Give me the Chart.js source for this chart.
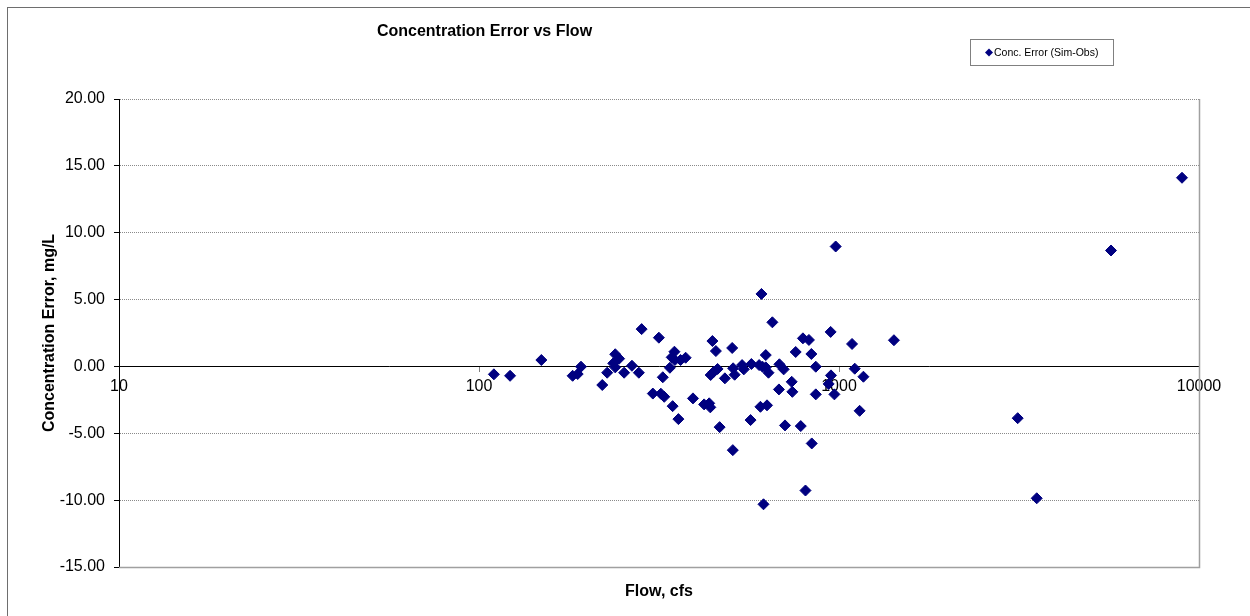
<!DOCTYPE html>
<html>
<head>
<meta charset="utf-8">
<script src="https://cdn.jsdelivr.net/npm/chart.js@4.4.1/dist/chart.umd.min.js"></script>
<style>
  html, body { margin: 0; padding: 0; background: #ffffff; }
  #c { display: block; }
</style>
</head>
<body>
<canvas id="c" width="1250" height="616"></canvas>
<script>
const chartTitle = "Concentration Error vs Flow";
const xAxisTitle = "Flow, cfs";
const yAxisTitle = "Concentration Error, mg/L";
const seriesLabel = "Conc. Error (Sim-Obs)";

const flows = [110, 122, 149, 182, 188, 192, 220, 227, 239, 245, 236, 239, 253, 266, 278, 283, 304, 316, 324, 320,
  327, 345, 358, 349, 343, 339, 350, 363, 375, 393, 422, 436, 439, 466, 445, 455, 440, 449, 460, 482,
  505, 507, 508, 513, 538, 544, 571, 568, 600, 609, 613, 626, 626, 637, 605, 631, 617, 653, 683, 702,
  681, 708, 739, 742, 758, 783, 794, 825, 838, 862, 840, 807, 862, 948, 950, 971, 936, 979, 1087, 1106,
  1169, 1141, 1421, 5696, 8970, 3136, 3542];
const errors = [-0.59, -0.70, 0.48, -0.70, -0.57, -0.02, -1.39, -0.47, 0.91, 0.58, 0.23, -0.07, -0.47, 0.05, -0.47, 2.79, -2.03, 2.15, -0.81, -2.04,
  -2.27, -2.97, -3.94, 1.10, 0.68, -0.10, 0.48, 0.48, 0.65, -2.39, -2.84, -2.76, -3.06, -4.54, 1.90, 1.15, -0.64, -0.40, -0.19, -0.89,
  1.38, -6.26, -0.14, -0.62, 0.10, -0.22, 0.18, -4.01, 0.10, 5.42, -0.02, -0.07, 0.85, -0.47, -3.02, -2.91, -10.31, 3.30, 0.16, -0.22,
  -1.72, -4.41, -1.15, -1.90, 1.08, -4.46, 2.10, 1.98, 0.93, -0.02, -5.76, -9.28, -2.09, 2.58, -0.67, -2.09, -1.31, 8.97, 1.68, -0.17,
  -0.77, -3.32, 1.96, 8.67, 14.11, -3.87, -9.86];

const xTicks = [10, 100, 1000, 10000];
const yMin = -15, yMax = 20, yStep = 5;

const FONT = "'Liberation Sans', Arial, Helvetica, sans-serif";
const NAVY = "#000080";

const points = flows.map((f, i) => ({ x: f, y: errors[i] }));

const decor = {
  id: 'decor',
  beforeDraw(chart) {
    const ctx = chart.ctx;
    ctx.save();
    ctx.fillStyle = '#ffffff';
    ctx.fillRect(0, 0, chart.width, chart.height);
    ctx.strokeStyle = '#6e6e6e';
    ctx.lineWidth = 1;
    ctx.strokeRect(7.5, 7.5, chart.width + 20, chart.height + 20);
    ctx.restore();
  },
  beforeDatasetsDraw(chart) {
    const ctx = chart.ctx;
    const a = chart.chartArea;
    ctx.save();
    ctx.strokeStyle = '#a0a0a0';
    ctx.lineWidth = 1.5;
    ctx.beginPath();
    ctx.moveTo(Math.round(a.right) + 0.5, a.top);
    ctx.lineTo(Math.round(a.right) + 0.5, a.bottom + 0.5);
    ctx.lineTo(a.left, a.bottom + 0.5);
    ctx.stroke();
    ctx.restore();
  },
  afterDraw(chart) {
    const ctx = chart.ctx;
    const a = chart.chartArea;
    ctx.save();
    ctx.fillStyle = '#000';
    ctx.textBaseline = 'middle';
    ctx.textAlign = 'center';
    ctx.font = "bold 16px " + FONT;
    ctx.fillText(chartTitle, 484.5, 32);
    ctx.fillText(xAxisTitle, (a.left + a.right) / 2, 592);
    // legend box
    const lx = 970.5, ly = 39.5, lw = 143, lh = 26;
    ctx.fillStyle = '#fff';
    ctx.fillRect(lx, ly, lw, lh);
    ctx.strokeStyle = '#808080';
    ctx.lineWidth = 1;
    ctx.strokeRect(lx, ly, lw, lh);
    const ds = chart.data.datasets[0];
    const mx = 989, my = ly + lh / 2;
    ctx.fillStyle = ds.backgroundColor;
    ctx.beginPath();
    ctx.moveTo(mx - 4, my); ctx.lineTo(mx, my - 4); ctx.lineTo(mx + 4, my); ctx.lineTo(mx, my + 4);
    ctx.closePath(); ctx.fill();
    ctx.fillStyle = '#000';
    ctx.textAlign = 'left';
    ctx.font = "10.5px " + FONT;
    ctx.fillText(ds.label, 994, my + 0.5);
    ctx.restore();
  }
};

new Chart(document.getElementById('c'), {
  type: 'scatter',
  data: {
    datasets: [{
      label: seriesLabel,
      data: points,
      pointStyle: 'rectRot',
      pointRadius: 5.5,
      pointHoverRadius: 5.5,
      backgroundColor: NAVY,
      borderColor: NAVY,
      borderWidth: 1
    }]
  },
  options: {
    responsive: false,
    animation: false,
    events: [],
    layout: { padding: { top: 99, right: 51, bottom: 49, left: 0 } },
    plugins: {
      legend: { display: false },
      title: { display: false },
      tooltip: { enabled: false }
    },
    scales: {
      x: {
        type: 'logarithmic',
        position: { y: 0 },
        min: 10,
        max: 10000,
        afterBuildTicks(scale) { scale.ticks = xTicks.map(v => ({ value: v })); },
        ticks: {
          autoSkip: false,
          maxRotation: 0,
          padding: 6,
          color: '#000',
          font: { family: FONT, size: 16 },
          callback: (v) => String(v)
        },
        grid: { display: true, drawOnChartArea: false, drawTicks: true, tickLength: 5, tickColor: '#808080' },
        border: { display: true, color: '#000', width: 1 }
      },
      y: {
        type: 'linear',
        position: 'left',
        min: yMin,
        max: yMax,
        afterFit(scale) { scale.width = 119; },
        ticks: {
          stepSize: yStep,
          padding: 9,
          color: '#000',
          font: { family: FONT, size: 16 },
          callback: (v) => Number(v).toFixed(2)
        },
        grid: { display: true, drawOnChartArea: true, drawTicks: true, tickLength: 5, color: '#8a8a8a', tickColor: '#000', lineWidth: 1 },
        border: { display: true, color: '#000', width: 1, dash: [1, 1] },
        title: {
          display: true,
          text: yAxisTitle,
          color: '#000',
          font: { family: FONT, size: 16, weight: 'bold' },
          padding: { top: 40, bottom: 0 }
        }
      }
    }
  },
  plugins: [decor]
});
</script>
</body>
</html>
